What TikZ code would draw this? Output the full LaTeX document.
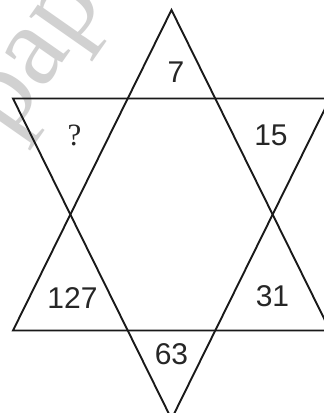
\documentclass[tikz,border=0pt]{standalone}
\usepackage{fontspec}
\setmainfont{Liberation Sans}
\newfontfamily\serifq{Liberation Serif}
\begin{document}
\begin{tikzpicture}[x=1pt,y=-1pt,
  edge/.style={line width=1.9pt,line join=miter,draw=black!90},
  num/.style={inner sep=0pt,font=\fontsize{30}{30}\selectfont,text=black!85},
  qmark/.style={inner sep=0pt,font=\serifq\fontsize{31}{31}\selectfont,text=black!85},
  wmark/.style={inner sep=0pt,font=\serifq\fontsize{115}{115}\selectfont,text=black!18,rotate=55}]
\useasboundingbox (0,0) rectangle (324,413);
\fill[white] (0,0) rectangle (324,413);
\begin{scope}
\clip (0,0) rectangle (324,413);
\node[wmark] (wm) at (45,62) {pap};
\coordinate (uA) at (171.5,10);
\coordinate (uL) at (13,330.5);
\coordinate (uR) at (330,330.5);
\coordinate (dA) at (171.5,419);
\coordinate (dL) at (13,98.5);
\coordinate (dR) at (330,98.5);
\draw[edge] (uA) -- (uL) -- (uR) -- cycle;
\draw[edge] (dA) -- (dL) -- (dR) -- cycle;
\end{scope}
\node[num] (n7) at (176,72.5) {7};
\node[qmark] (nq) at (74.5,135.5) {?};
\node[num] (n15) at (271,135.5) {15};
\node[num] (n127) at (72.5,298.5) {127};
\node[num] (n31) at (272.5,296.5) {31};
\node[num] (n63) at (171.5,354.5) {63};
\end{tikzpicture}
\end{document}
